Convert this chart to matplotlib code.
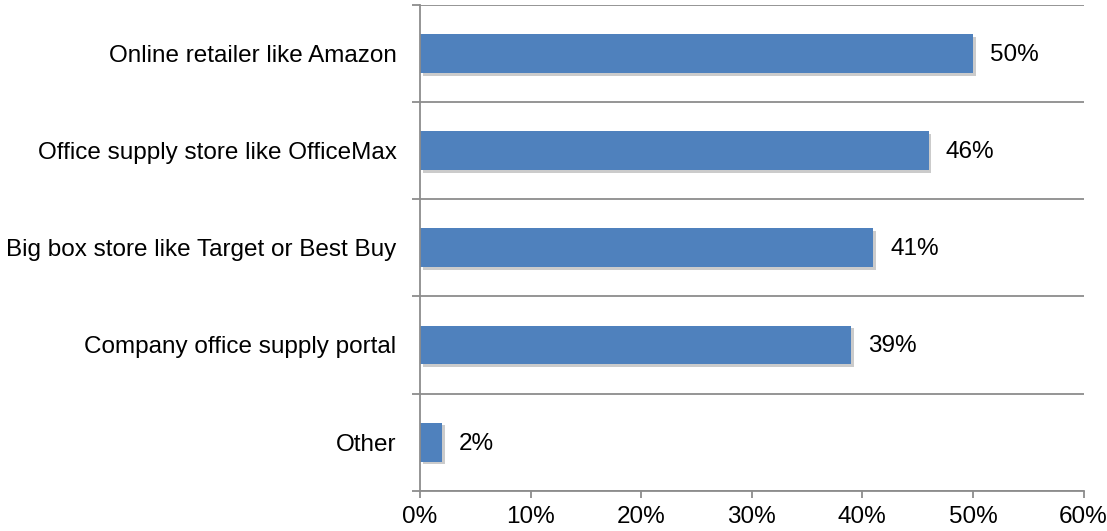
import matplotlib
matplotlib.use("Agg")
import matplotlib.pyplot as plt
import matplotlib.patheffects as pe
from matplotlib.ticker import FixedLocator, NullFormatter

categories = ["Online retailer like Amazon", "Office supply store like OfficeMax",
              "Big box store like Target or Best Buy", "Company office supply portal", "Other"]
values = [50, 46, 41, 39, 2]
xticks = [0, 10, 20, 30, 40, 50, 60]
xtick_labels = ["0%", "10%", "20%", "30%", "40%", "50%", "60%"]

plt.rcParams['font.family'] = ['Liberation Sans', 'DejaVu Sans']
FS = 17.5

fig = plt.figure(figsize=(11.07, 5.31), dpi=100)
ax = fig.add_axes([420/1107, 1-490.7/531, (1083.5-420)/1107, (490.7-5)/531])

n = len(categories)
ypos = list(range(n))
bars = ax.barh(ypos, values, height=0.4, color="#4F81BD", zorder=3)
for b in bars:
    b.set_path_effects([pe.SimplePatchShadow(offset=(2, -2), shadow_rgbFace="#999999", alpha=0.5), pe.Normal()])

ax.set_ylim(n - 0.5, -0.5)
ax.set_xlim(0, 60)

for k in range(n + 1):
    ax.axhline(k - 0.5, color="#8c8c8c", lw=1.3, zorder=1)

ax.yaxis.set_major_locator(FixedLocator(ypos))
ax.set_yticklabels(categories, fontsize=FS)
ax.tick_params(axis='y', which='major', length=0, pad=17)
ax.yaxis.set_minor_locator(FixedLocator([k - 0.5 for k in range(n + 1)]))
ax.yaxis.set_minor_formatter(NullFormatter())
ax.tick_params(axis='y', which='minor', length=6, width=1.3, color="#8c8c8c")

ax.set_xticks(xticks)
ax.set_xticklabels(xtick_labels, fontsize=FS)
ax.tick_params(axis='x', length=5, width=1.3, color="#8c8c8c", pad=6)

for s in ["top", "right"]:
    ax.spines[s].set_visible(False)
for s in ["left", "bottom"]:
    ax.spines[s].set_color("#8c8c8c")
    ax.spines[s].set_linewidth(1.3)
    ax.spines[s].set_zorder(4)

for y, v in zip(ypos, values):
    ax.annotate(f"{v}%", (v, y), xytext=(12, -1), textcoords="offset points",
                va="center", ha="left", fontsize=FS)

fig.savefig("out.png", dpi=100)
